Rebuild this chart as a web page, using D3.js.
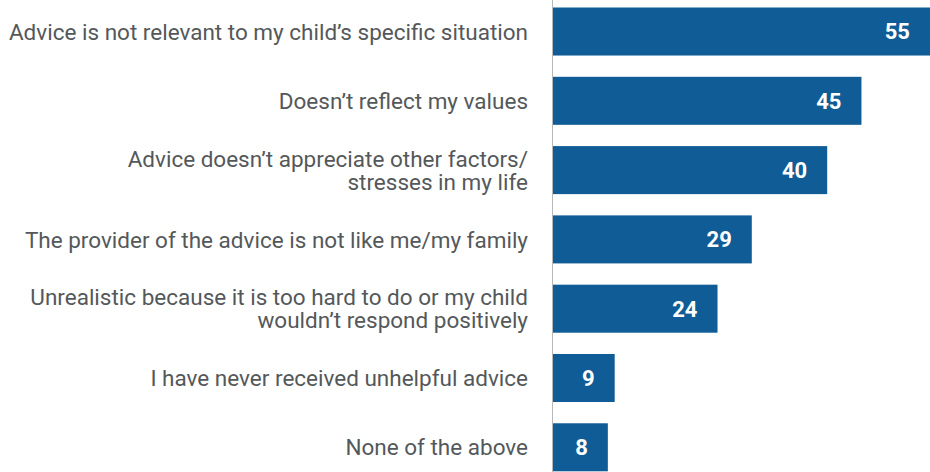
<!DOCTYPE html>
<html>
<head>
<meta charset="utf-8">
<script src="https://cdn.jsdelivr.net/npm/d3@7"></script>
<style>
  html, body { margin: 0; padding: 0; background: #fff; }
  svg { display: block; }
</style>
</head>
<body>
<svg id="chart" width="930" height="472"></svg>
<script>
// Reasons parents found advice unhelpful (%)
const categories = [
  ["Advice is not relevant to my child\u2019s specific situation"],
  ["Doesn\u2019t reflect my values"],
  ["Advice doesn\u2019t appreciate other factors/", "stresses in my life"],
  ["The provider of the advice is not like me/my family"],
  ["Unrealistic because it is too hard to do or my child", "wouldn\u2019t respond positively"],
  ["I have never received unhelpful advice"],
  ["None of the above"]
];
const values = [55, 45, 40, 29, 24, 9, 8];

const W = 930, H = 472;
const x0 = 553;
const svg = d3.select("#chart");

const x = d3.scaleLinear().domain([0, 55]).range([x0, 930]);
const y = d3.scaleBand()
  .domain(d3.range(values.length))
  .range([7.5, 471.3])
  .paddingInner(0.307)
  .paddingOuter(0);

const font = "Roboto, 'Noto Sans', sans-serif";

// bars
svg.append("g").selectAll("rect")
  .data(values)
  .join("rect")
  .attr("x", x(0))
  .attr("y", (d, i) => y(i))
  .attr("width", d => x(d) - x(0))
  .attr("height", y.bandwidth())
  .attr("fill", "#0f5c96");

// value labels inside bar ends
svg.append("g").selectAll("text")
  .data(values)
  .join("text")
  .attr("x", d => x(d) - 20)
  .attr("y", (d, i) => y(i) + y.bandwidth() / 2)
  .attr("dy", "0.36em")
  .attr("text-anchor", "end")
  .attr("font-family", font)
  .attr("font-weight", "bold")
  .attr("font-size", 22)
  .attr("fill", "#ffffff")
  .text(d => d);

// category labels (right-aligned, multi-line centred on the bar)
const lineH = 23;
const lab = svg.append("g").selectAll("text")
  .data(categories)
  .join("text")
  .attr("text-anchor", "end")
  .attr("font-family", font)
  .attr("font-size", 22.5)
  .attr("fill", "#54585a")
  .attr("y", (d, i) => y(i) + y.bandwidth() / 2 - (d.length - 1) * lineH / 2);
lab.selectAll("tspan")
  .data(d => d)
  .join("tspan")
  .attr("x", 528)
  .attr("dy", (d, j) => j === 0 ? "0.36em" : lineH)
  .text(d => d);

// vertical axis line
svg.append("line")
  .attr("x1", x0 - 0.5).attr("x2", x0 - 0.5)
  .attr("y1", 0).attr("y2", H)
  .attr("stroke", "#b8b8b8")
  .attr("stroke-width", 1);
</script>
</body>
</html>
